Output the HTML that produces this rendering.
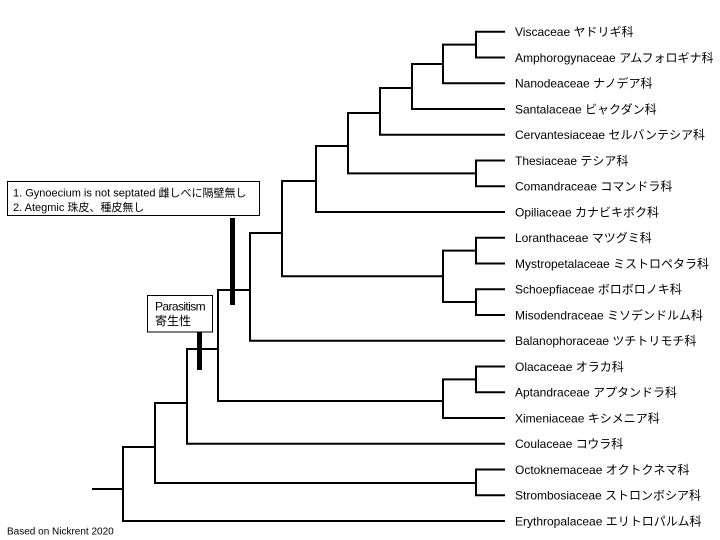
<!DOCTYPE html>
<html><head><meta charset="utf-8"><style>
html,body{margin:0;padding:0;background:#fff;}
svg{display:block;}
text{font-family:"Liberation Sans","Noto Sans CJK JP",sans-serif;fill:#000;}
</style></head><body>
<svg width="720" height="540" viewBox="0 0 720 540" xmlns="http://www.w3.org/2000/svg">
<g fill="none" stroke="#000" stroke-width="2" stroke-linejoin="miter" stroke-linecap="butt">
<path d="M505,31.8 H476 V57.5 H505"/>
<path d="M505,160.5 H476 V186.3 H505"/>
<path d="M505,237.8 H476 V263.5 H505"/>
<path d="M505,289.3 H476 V315 H505"/>
<path d="M505,366.5 H476 V392.3 H505"/>
<path d="M505,469.5 H476 V495.3 H505"/>
<path d="M476,44.6 H443 V83.3 H505"/>
<path d="M443,64 H412 V109 H505"/>
<path d="M412,88 H380 V134.8 H505"/>
<path d="M380,113 H348 V173.4 H476"/>
<path d="M348,146 H316 V212 H505"/>
<path d="M476,250.6 H443 V302 H476"/>
<path d="M316,181 H282 V276.3 H443"/>
<path d="M282,233 H250 V340.8 H505"/>
<path d="M476,379.4 H443 V418 H505"/>
<path d="M250,290 H218 V401 H443"/>
<path d="M218,349 H187 V443.8 H505"/>
<path d="M187,403 H155 V483 H476"/>
<path d="M155,447 H123 V521 H505"/>
<path d="M92,489 H123"/>
</g>
<rect x="230" y="218" width="5" height="87" fill="#000"/>
<rect x="197" y="332" width="5" height="38" fill="#000"/>
<rect x="7.5" y="181.5" width="252" height="34" fill="#fff" stroke="#000" stroke-width="1"/>
<text x="13" y="196.5" font-size="11">1. Gynoecium is not septated 雌しべに隔壁無し</text>
<text x="13" y="211" font-size="11">2. Ategmic 珠皮、種皮無し</text>
<rect x="147.5" y="295.5" width="65" height="36.5" fill="#fff" stroke="#000" stroke-width="1"/>
<text x="155" y="310.5" font-size="12" letter-spacing="-0.6">Parasitism</text>
<text x="155" y="325" font-size="12">寄生性</text>
<g font-size="12">
<text x="515" y="36">Viscaceae ヤドリギ科</text>
<text x="515" y="61.8">Amphorogynaceae アムフォロギナ科</text>
<text x="515" y="87.5">Nanodeaceae ナノデア科</text>
<text x="515" y="113.3">Santalaceae ビャクダン科</text>
<text x="515" y="139">Cervantesiaceae セルバンテシア科</text>
<text x="515" y="164.8">Thesiaceae テシア科</text>
<text x="515" y="190.5">Comandraceae コマンドラ科</text>
<text x="515" y="216.3">Opiliaceae カナビキボク科</text>
<text x="515" y="242">Loranthaceae マツグミ科</text>
<text x="515" y="267.8">Mystropetalaceae ミストロペタラ科</text>
<text x="515" y="293.5">Schoepfiaceae ボロボロノキ科</text>
<text x="515" y="319.3">Misodendraceae ミソデンドルム科</text>
<text x="515" y="345">Balanophoraceae ツチトリモチ科</text>
<text x="515" y="370.8">Olacaceae オラカ科</text>
<text x="515" y="396.5">Aptandraceae アプタンドラ科</text>
<text x="515" y="422.3">Ximeniaceae キシメニア科</text>
<text x="515" y="448">Coulaceae コウラ科</text>
<text x="515" y="473.8">Octoknemaceae オクトクネマ科</text>
<text x="515" y="499.5">Strombosiaceae ストロンボシア科</text>
<text x="515" y="525.3">Erythropalaceae エリトロパルム科</text>
</g>
<text x="7" y="534.5" font-size="10">Based on Nickrent 2020</text>
</svg>
</body></html>
